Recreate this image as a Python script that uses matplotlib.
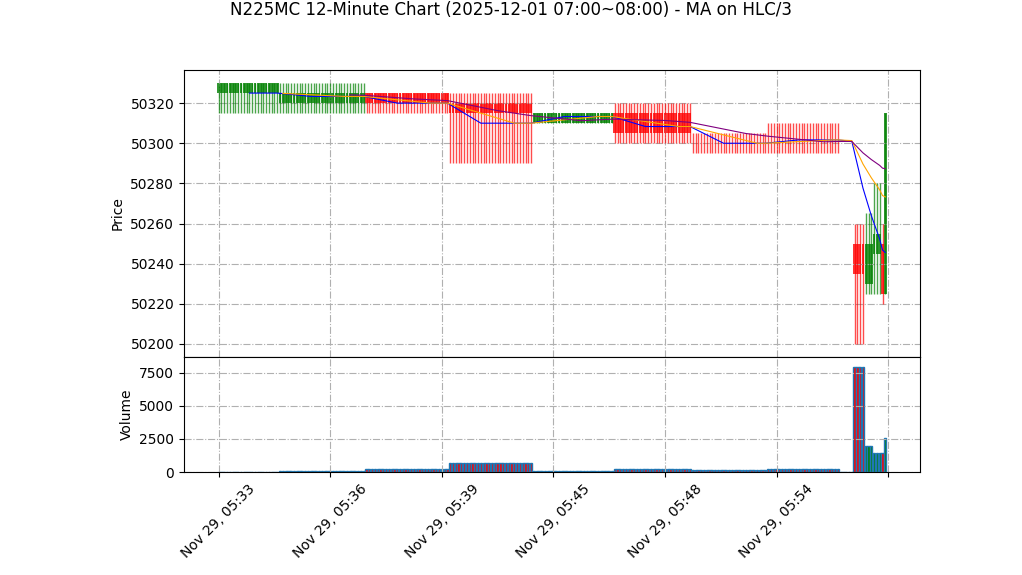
import numpy as np
import pandas as pd
import matplotlib
matplotlib.use("Agg")
import matplotlib.pyplot as plt

# ---- data (runs of identical candles) ----
run_open   = [50325, 50320, 50325, 50320, 50310, 50315, 50300, 50300, 50300, 50250, 50230, 50245, 50250, 50225]
run_high   = [50330, 50330, 50325, 50325, 50315, 50320, 50305, 50310, 50300, 50260, 50265, 50280, 50260, 50315]
run_low    = [50315, 50315, 50315, 50290, 50310, 50300, 50295, 50295, 50300, 50200, 50225, 50225, 50220, 50225]
run_close  = [50330, 50325, 50320, 50315, 50315, 50305, 50300, 50300, 50300, 50235, 50250, 50255, 50225, 50315]
run_volume = [30, 100, 200, 700, 40, 200, 120, 200, 0, 7900, 2000, 1400, 1400, 2600]
run_length = [22, 31, 30, 30, 29, 28, 27, 26, 5, 4, 3, 3, 1, 1]

tick_index  = [0, 40, 80, 120, 160, 200, 240]
tick_labels = ["Nov 29, 05:33", "Nov 29, 05:36", "Nov 29, 05:39",
               "Nov 29, 05:45", "Nov 29, 05:48", "Nov 29, 05:54", ""]
ma_windows = [12, 24, 48]
ma_colors = ["blue", "orange", "purple"]

df = pd.DataFrame({
    "open": np.repeat(run_open, run_length),
    "high": np.repeat(run_high, run_length),
    "low": np.repeat(run_low, run_length),
    "close": np.repeat(run_close, run_length),
    "volume": np.repeat(run_volume, run_length),
})
x = np.arange(len(df))
up = df["close"] > df["open"]
colors = np.where(up, "green", "red")
hlc3 = (df["high"] + df["low"] + df["close"]) / 3

fig = plt.figure(figsize=(10.22, 5.75), dpi=100)
W, H = 1022, 575
ax1 = fig.add_axes([184 / W, 1 - 357 / H, (920 - 184) / W, (357 - 70) / H])
ax2 = fig.add_axes([184 / W, 1 - 472 / H, (920 - 184) / W, (472 - 357) / H], sharex=ax1)

# candles
ax1.vlines(x, df["low"], df["high"], colors=colors, linewidth=1, alpha=0.7)
body_bottom = np.minimum(df["open"], df["close"])
body_height = np.abs(df["close"] - df["open"])
ax1.bar(x, body_height, bottom=body_bottom, width=0.9, color=colors, alpha=0.8)

for w, c in zip(ma_windows, ma_colors):
    ax1.plot(x, hlc3.rolling(w).mean(), color=c, linewidth=0.8)

ax1.set_ylabel("Price")
ax1.grid(True, linestyle="-.")
ax1.tick_params(labelbottom=False)

# volume
ax2.bar(x, df["volume"], width=0.8, color=colors, edgecolor="#1f77b4", linewidth=1)
ax2.set_ylim(0, df["volume"].max() * 1.1)
ax2.set_ylabel("Volume")
ax2.grid(True, linestyle="-.")
ax2.set_xticks(tick_index)
ax2.set_xticklabels(tick_labels, rotation=45)

fig.text(0.5, 1 - 10 / H, "N225MC 12-Minute Chart (2025-12-01 07:00~08:00) - MA on HLC/3",
         ha="center", va="center", fontsize=12)

fig.savefig("out.png", dpi=100)
